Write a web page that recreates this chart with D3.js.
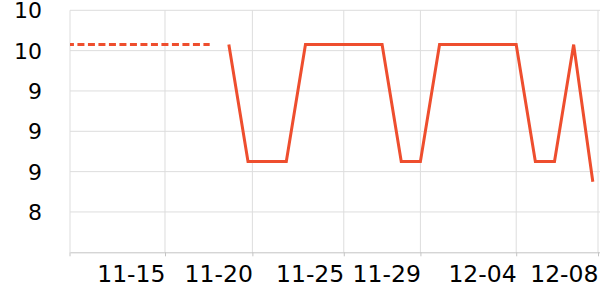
<!DOCTYPE html>
<html>
<head>
<meta charset="utf-8">
<script src="https://cdn.jsdelivr.net/npm/d3@7"></script>
<style>
  body { margin: 0; background: #fff; }
  text { font-family: "DejaVu Sans", sans-serif; fill: #000; }
</style>
</head>
<body>
<svg width="600" height="300"></svg>
<script>
// data
const pastDates = ["2023-11-10", "2023-11-11", "2023-11-12", "2023-11-13", "2023-11-14",
  "2023-11-15", "2023-11-16", "2023-11-17", "2023-11-18"];
const pastValues = [9.86, 9.86, 9.86, 9.86, 9.86, 9.86, 9.86, 9.86, 9.86];

const dates = ["2023-11-19", "2023-11-20", "2023-11-21", "2023-11-22", "2023-11-23",
  "2023-11-24", "2023-11-25", "2023-11-26", "2023-11-27", "2023-11-28",
  "2023-11-29", "2023-11-30", "2023-12-01", "2023-12-02", "2023-12-03",
  "2023-12-04", "2023-12-05", "2023-12-06", "2023-12-07", "2023-12-08"];
const values = [9.86, 8.7, 8.7, 8.7, 9.86, 9.86, 9.86, 9.86, 9.86, 8.7,
  8.7, 9.86, 9.86, 9.86, 9.86, 9.86, 8.7, 8.7, 9.86, 8.5];

// axis ticks
const xTicks = ["2023-11-15T16:00", "2023-11-20T05:30", "2023-11-25T00:00",
  "2023-11-29T00:00", "2023-12-04T00:00", "2023-12-08T06:30"];
const xDomain = ["2023-11-10T17:00", "2023-12-08T09:00"];
const yTicks = [8.2, 8.6, 9.0, 9.4, 9.8, 10.2];
const yDomain = [7.8, 10.2];

const LINE_COLOR = "#ee4e2e";
const GRID_COLOR = "#dddddd";

let svg = d3.select("svg"),
    width = +svg.attr("width"),
    height = +svg.attr("height");

const margin = { top: 10.3, right: 0, bottom: 47.7, left: 70 };

const parse = d3.isoParse;

let x = d3.scaleTime()
  .domain(xDomain.map(parse))
  .range([margin.left, width - margin.right]);

let y = d3.scaleLinear()
  .domain(yDomain)
  .range([height - margin.bottom, margin.top]);

// clip area
svg.append("clipPath")
  .attr("id", "plotClip")
  .append("rect")
  .attr("x", margin.left)
  .attr("y", 0)
  .attr("width", width - margin.left - margin.right)
  .attr("height", height);

// horizontal grid
svg.append("g")
  .selectAll("line")
  .data(yTicks)
  .join("line")
  .attr("x1", margin.left)
  .attr("x2", width - margin.right)
  .attr("y1", d => y(d))
  .attr("y2", d => y(d))
  .attr("stroke", GRID_COLOR)
  .attr("stroke-width", 1);

// vertical grid
svg.append("g")
  .selectAll("line")
  .data(xTicks.map(parse))
  .join("line")
  .attr("x1", d => x(d))
  .attr("x2", d => x(d))
  .attr("y1", margin.top)
  .attr("y2", height - margin.bottom)
  .attr("stroke", GRID_COLOR)
  .attr("stroke-width", 1);

// y axis line
svg.append("line")
  .attr("x1", margin.left)
  .attr("x2", margin.left)
  .attr("y1", margin.top)
  .attr("y2", height - margin.bottom)
  .attr("stroke", GRID_COLOR);

// y labels
svg.append("g")
  .selectAll("text")
  .data(yTicks)
  .join("text")
  .attr("x", margin.left - 28)
  .attr("y", d => y(d))
  .attr("dy", "0.36em")
  .attr("text-anchor", "end")
  .attr("font-size", 22)
  .text(d => d3.format(".0f")(d));

// x axis
let xAxis = svg.append("g")
  .attr("transform", "translate(0," + (height - margin.bottom) + ")")
  .call(d3.axisBottom(x)
    .tickValues(xTicks.map(parse))
    .tickSize(4)
    .tickSizeOuter(0)
    .tickFormat(d3.timeFormat("%m-%d")));

xAxis.select(".domain").attr("stroke", "#c4c4c4");
xAxis.selectAll(".tick line").attr("stroke", "#c4c4c4");
xAxis.selectAll(".tick text")
  .attr("font-family", "DejaVu Sans, sans-serif")
  .attr("font-size", 23.5)
  .attr("fill", "#000")
  .attr("text-anchor", "end")
  .attr("y", 13)
  .attr("dy", "0.71em");

// extra tick at the axis origin
xAxis.append("line")
  .attr("x1", margin.left)
  .attr("x2", margin.left)
  .attr("y1", 0)
  .attr("y2", 4)
  .attr("stroke", "#c4c4c4");

let line = d3.line()
  .x(d => x(d[0]))
  .y(d => y(d[1]));

// dashed earlier part
svg.append("path")
  .datum(pastDates.map((d, i) => [parse(d), pastValues[i]]))
  .attr("clip-path", "url(#plotClip)")
  .attr("fill", "none")
  .attr("stroke", LINE_COLOR)
  .attr("stroke-width", 3)
  .attr("stroke-dasharray", "7 3.5")
  .attr("d", line);

// solid part
svg.append("path")
  .datum(dates.map((d, i) => [parse(d), values[i]]))
  .attr("clip-path", "url(#plotClip)")
  .attr("fill", "none")
  .attr("stroke", LINE_COLOR)
  .attr("stroke-width", 3)
  .attr("stroke-linejoin", "miter")
  .attr("d", line);
</script>
</body>
</html>
